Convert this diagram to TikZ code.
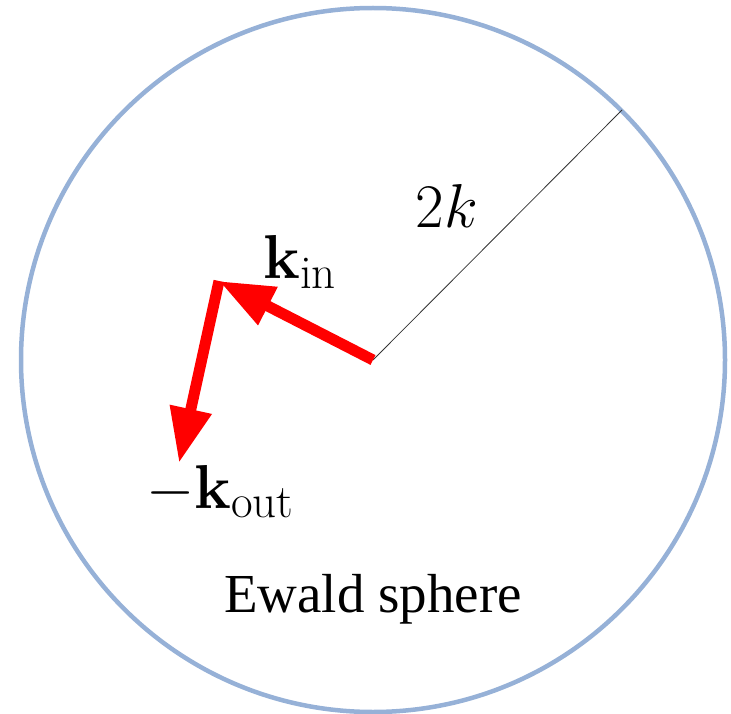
\RequirePackage{fix-cm}
\documentclass[tikz,border=0pt]{standalone}
\usepackage{amsmath,amssymb}
\usepackage{xcolor}
\usepackage[no-math]{fontspec}
\newfontfamily\labelfont{Liberation Serif}
\usepackage{tikz}
\usetikzlibrary{arrows.meta}

\newcommand{\vecsub}[1]{\mbox{\fontsize{47}{50}\selectfont #1}}
\definecolor{ewaldblue}{RGB}{150,177,215}

\begin{document}
\begin{tikzpicture}[
    x=1pt, y=-1pt,
    > = {Triangle[length=55pt,width=40pt]}, % arrow head style
    every node/.style={inner sep=0pt, font=\fontsize{62}{70}\selectfont},
    wavevec/.style={->, red, line width=11pt}, % k vectors
    sphere/.style={ewaldblue, line width=4.5pt}
]
\useasboundingbox (0,0) rectangle (731,714);

% Points
\coordinate (centre) at (373,360);
\coordinate (rim) at (622,110);
\coordinate (kin) at (219,281);
\coordinate (kout) at (179,463);

% Sphere and radius
\draw[sphere] (centre) circle[radius=352];
\draw[black!80, line width=0.8pt] (centre) -- (rim);

% Vectors
\draw[wavevec] (centre) -- (kin);
\draw[wavevec] (kin) -- (kout);

% Labels
\node[anchor=base] (radius) at (447,228) {$2k$};
\node[anchor=base west] (kinlabel) at (263,279) {$\mathbf{k}_{\vecsub{in}}$};
\node[anchor=base west] (koutlabel) at (146,508) {$-\mathbf{k}_{\vecsub{out}}$};
\node[anchor=base, font=\labelfont\fontsize{55}{60}\selectfont] (title) at (373,612) {Ewald sphere};

\end{tikzpicture}
\end{document}
